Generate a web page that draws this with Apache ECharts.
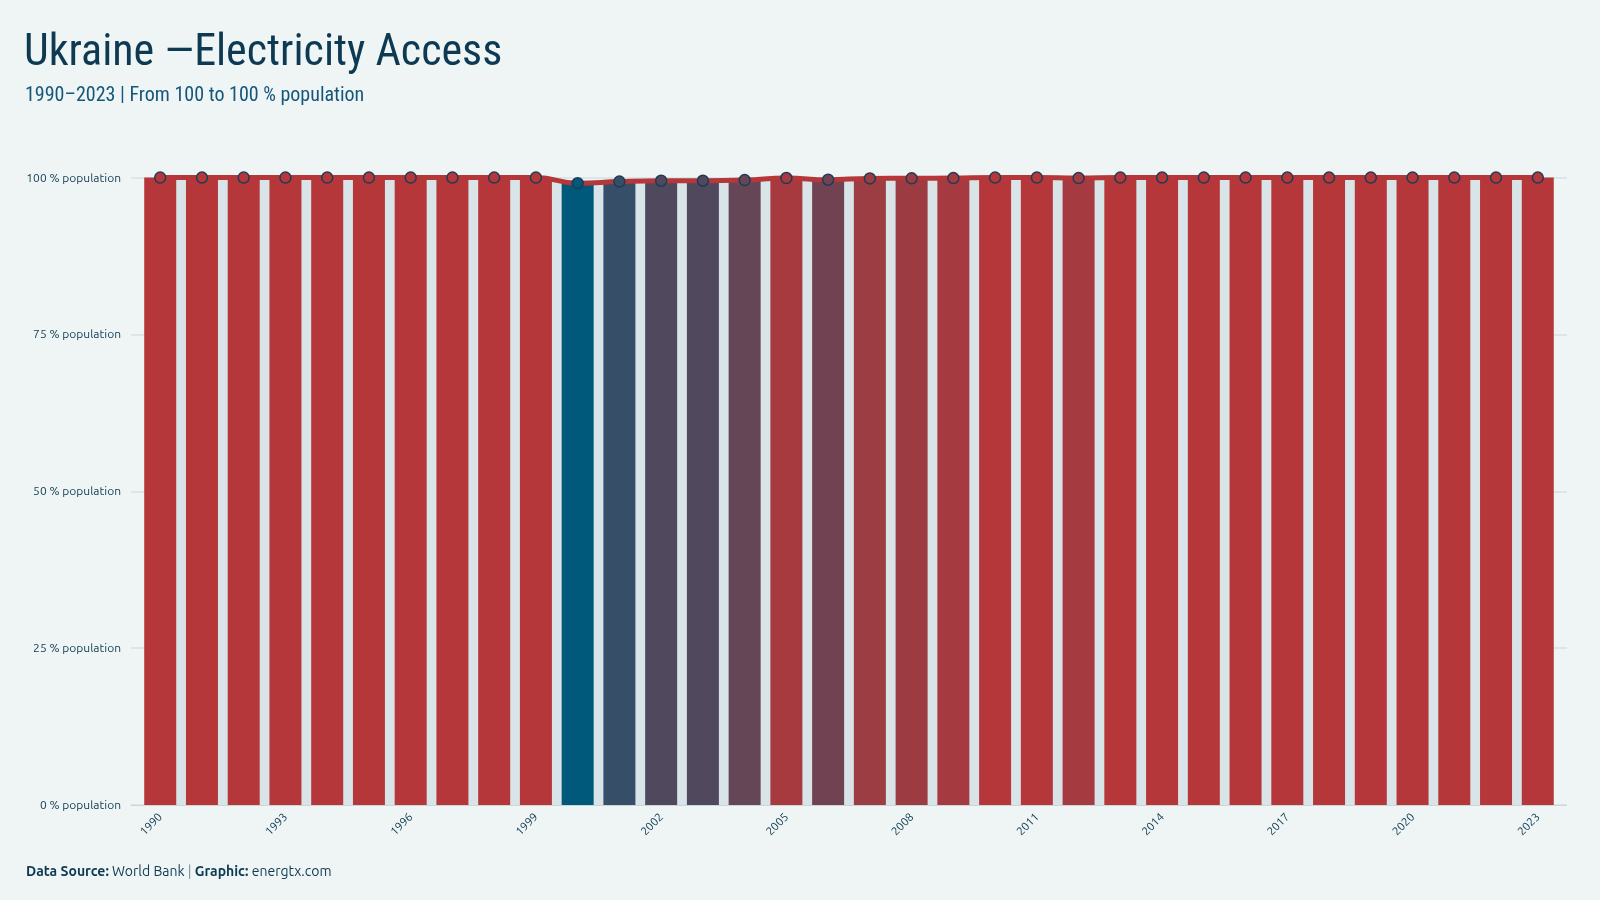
<!DOCTYPE html>
<html>
<head>
<meta charset="utf-8">
<script src="https://cdn.jsdelivr.net/npm/echarts@6/dist/echarts.min.js"></script>
<style>
html,body{margin:0;padding:0;background:#eff5f5;}
#chart{width:1600px;height:900px;}
</style>
</head>
<body>
<div id="chart"></div>
<script>
const years = [1990,1991,1992,1993,1994,1995,1996,1997,1998,1999,2000,2001,2002,2003,2004,2005,2006,2007,2008,2009,2010,2011,2012,2013,2014,2015,2016,2017,2018,2019,2020,2021,2022,2023];
const access = [100,100,100,100,100,100,100,100,100,100,99.1,99.37,99.5,99.5,99.6,99.93,99.66,99.875,99.88,99.92,100,100,99.92,100,100,100,100,100,100,100,100,100,100,100];
const xTickLabels = [1990,1993,1996,1999,2002,2005,2008,2011,2014,2017,2020,2023];
const yTicks = [0,25,50,75,100];

const pairs = years.map((y,i)=>[y, access[i]]);
const navy = '#0d3a52';
const condensed = '"Ubuntu Condensed","Roboto Condensed","Liberation Sans Narrow","DejaVu Sans Condensed","Noto Sans",sans-serif';
const body = 'Ubuntu,"Noto Sans","Open Sans",sans-serif';

const chart = echarts.init(document.getElementById('chart'));
chart.setOption({
  backgroundColor:'#eff5f5',
  animation:false,
  title:[
    {text:'Ukraine —Electricity Access', left:19, top:27,
     textStyle:{fontFamily:condensed, fontSize:44, fontWeight:'normal', color:navy}},
    {text:'1990–2023 | From 100 to 100 % population', left:20, top:81,
     textStyle:{fontFamily:condensed, fontSize:20, fontWeight:'normal', color:'#14577a'}},
    {text:'{b|Data Source:} World Bank {s||} {b|Graphic:} energtx.com', left:21, top:859,
     textStyle:{fontFamily:body, fontSize:14, fontWeight:'normal', color:navy,
       rich:{b:{fontFamily:body,fontSize:14,fontWeight:'bold',color:navy},
             s:{fontFamily:body,fontSize:14,color:'#6f8c9c'}}}}
  ],
  grid:{left:131, right:33, top:177.6, bottom:95},
  xAxis:{
    type:'value', min:1989.3, max:2023.7,
    splitLine:{show:false},
    axisLine:{show:true, lineStyle:{color:'#c5d3d8', type:'dotted', width:1}},
    axisTick:{show:false},
    axisLabel:{customValues:xTickLabels, rotate:45, fontSize:11.5, color:navy, fontFamily:body, margin:10,
      formatter:v=>String(v)}
  },
  yAxis:{
    type:'value', min:0, max:100, interval:25,
    axisLine:{show:false}, axisTick:{show:false},
    splitLine:{lineStyle:{color:'#d5e1e5', width:1.5}},
    axisLabel:{fontSize:12, color:navy, fontFamily:body, margin:10, formatter:v=>v+' % population'}
  },
  visualMap:{
    show:false, type:'continuous', seriesIndex:[1,2], dimension:1,
    min:99.1, max:100, inRange:{color:['#00587a','#b5373a']}
  },
  series:[
    {type:'line', data:pairs, smooth:true, symbol:'none', z:1,
     lineStyle:{width:0, color:'#d8e4e8'}, areaStyle:{color:'#d8e4e8', opacity:1}, silent:true},
    {type:'bar', data:pairs, barWidth:32, z:2},
    {type:'line', data:pairs, smooth:true, z:3, symbol:'circle', symbolSize:11,
     lineStyle:{color:'#b5373a', width:5},
     itemStyle:{borderColor:'#1d3c57', borderWidth:1.5}}
  ]
});
</script>
</body>
</html>
